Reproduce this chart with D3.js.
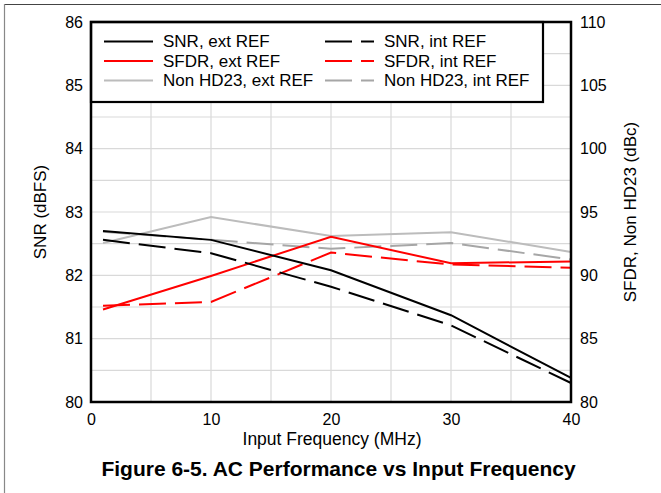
<!DOCTYPE html>
<html><head><meta charset="utf-8">
<script src="https://cdn.jsdelivr.net/npm/d3@7"></script>
<style>body{margin:0;background:#fff}svg{display:block;font-family:"Liberation Sans",Arial,sans-serif}</style>
</head><body>
<svg id="c" width="661" height="493"></svg>
<script>
const freq = [1, 10, 20, 30, 40];
const snrExt = [82.70, 82.56, 82.08, 81.37, 80.38];
const snrInt = [82.56, 82.35, 81.82, 81.21, 80.30];
const sfdrExt = [87.3, 89.95, 93.05, 90.95, 91.1];
const sfdrInt = [87.6, 87.9, 91.8, 90.85, 90.6];
const hd23Ext = [92.55, 94.6, 93.1, 93.4, 91.85];
const hd23Int = [93.45, 92.8, 92.1, 92.55, 91.25];
const xTicks = [0, 10, 20, 30, 40];
const yLeftTicks = [80, 81, 82, 83, 84, 85, 86];
const yRightTicks = [80, 85, 90, 95, 100, 105, 110];
const legendLabels = ["SNR, ext REF", "SNR, int REF", "SFDR, ext REF", "SFDR, int REF", "Non HD23, ext REF", "Non HD23, int REF"];

const svg = d3.select("#c");
const L = 91, R = 571, T = 22, B = 402;
const x = d3.scaleLinear().domain([0, 40]).range([L, R]);
const yL = d3.scaleLinear().domain([80, 86]).range([B, T]);
const yR = d3.scaleLinear().domain([80, 110]).range([B, T]);

// outer figure frame
svg.append("line").attr("x1", 4).attr("x2", 661).attr("y1", 4.5).attr("y2", 4.5).attr("stroke", "#444").attr("stroke-width", 1.2);
svg.append("line").attr("x1", 4.5).attr("x2", 4.5).attr("y1", 4).attr("y2", 493).attr("stroke", "#888").attr("stroke-width", 1.2);

// grid
const g = svg.append("g");
g.selectAll(".vg").data(d3.range(5, 40, 5)).join("line")
  .attr("x1", d => x(d)).attr("x2", d => x(d)).attr("y1", T).attr("y2", B)
  .attr("stroke", "#d9d9d9").attr("stroke-width", 1.2);
g.selectAll(".hg").data(d3.range(80.5, 86, 0.5)).join("line")
  .attr("x1", L).attr("x2", R).attr("y1", d => yL(d)).attr("y2", d => yL(d))
  .attr("stroke", "#d9d9d9").attr("stroke-width", 1.2);

const series = [
  {v: snrExt, s: yL, c: "#000", d: null},
  {v: snrInt, s: yL, c: "#000", d: "27,9"},
  {v: sfdrExt, s: yR, c: "#ff0000", d: null},
  {v: sfdrInt, s: yR, c: "#ff0000", d: "27,9"},
  {v: hd23Ext, s: yR, c: "#bcbcbc", d: null},
  {v: hd23Int, s: yR, c: "#a6a6a6", d: "27,9"}
];
const drawOrder = [4, 5, 2, 3, 0, 1];
drawOrder.forEach(i => {
  const se = series[i];
  const line = d3.line().x((d, k) => x(freq[k])).y(d => se.s(d));
  svg.append("path").attr("d", line(se.v)).attr("fill", "none")
    .attr("stroke", se.c).attr("stroke-width", 2)
    .attr("stroke-dasharray", se.d);
});

// legend
const lg = svg.append("g");
lg.append("rect").attr("x", L).attr("y", T).attr("width", 452).attr("height", 80)
  .attr("fill", "#fff").attr("stroke", "#000").attr("stroke-width", 2.2);
series.forEach((se, i) => {
  const col = i % 2, row = Math.floor(i / 2);
  const lx = col === 0 ? 104 : 325;
  const ly = 41.5 + row * 19.5;
  lg.append("line").attr("x1", lx).attr("x2", lx + 49).attr("y1", ly).attr("y2", ly)
    .attr("stroke", se.c).attr("stroke-width", 2).attr("stroke-dasharray", se.d);
  lg.append("text").attr("x", lx + 59).attr("y", ly).attr("dy", "0.35em")
    .attr("font-size", 17).attr("fill", "#000").text(legendLabels[i]);
});

// frame
svg.append("rect").attr("x", L).attr("y", T).attr("width", R - L).attr("height", B - T)
  .attr("fill", "none").attr("stroke", "#000").attr("stroke-width", 2.5);

// axes
const axL = d3.axisLeft(yL).tickValues(yLeftTicks).tickSize(0).tickPadding(8).tickFormat(d3.format("d"));
const axR = d3.axisRight(yR).tickValues(yRightTicks).tickSize(0).tickPadding(9).tickFormat(d3.format("d"));
const axB = d3.axisBottom(x).tickValues(xTicks).tickSize(0).tickPadding(12).tickFormat(d3.format("d"));
[svg.append("g").attr("transform", `translate(${L},0)`).call(axL),
 svg.append("g").attr("transform", `translate(${R},0)`).call(axR),
 svg.append("g").attr("transform", `translate(0,${B})`).call(axB)].forEach(a => {
  a.select(".domain").remove();
  a.selectAll("text").attr("font-size", 16).attr("fill", "#000").attr("font-family", "Liberation Sans, Arial, sans-serif");
});

svg.append("text").attr("x", 332).attr("y", 439).attr("dy", "0.35em").attr("text-anchor", "middle")
  .attr("font-size", 17.5).text("Input Frequency (MHz)");
svg.append("text").attr("transform", "translate(40,212) rotate(-90)").attr("dy", "0.35em")
  .attr("text-anchor", "middle").attr("font-size", 17).text("SNR (dBFS)");
svg.append("text").attr("transform", "translate(630,212) rotate(-90)").attr("dy", "0.35em")
  .attr("text-anchor", "middle").attr("font-size", 17).text("SFDR, Non HD23 (dBc)");
svg.append("text").attr("x", 338.5).attr("y", 469).attr("dy", "0.35em").attr("text-anchor", "middle")
  .attr("font-size", 21).attr("font-weight", "bold").text("Figure 6-5. AC Performance vs Input Frequency");
</script>
</body></html>
